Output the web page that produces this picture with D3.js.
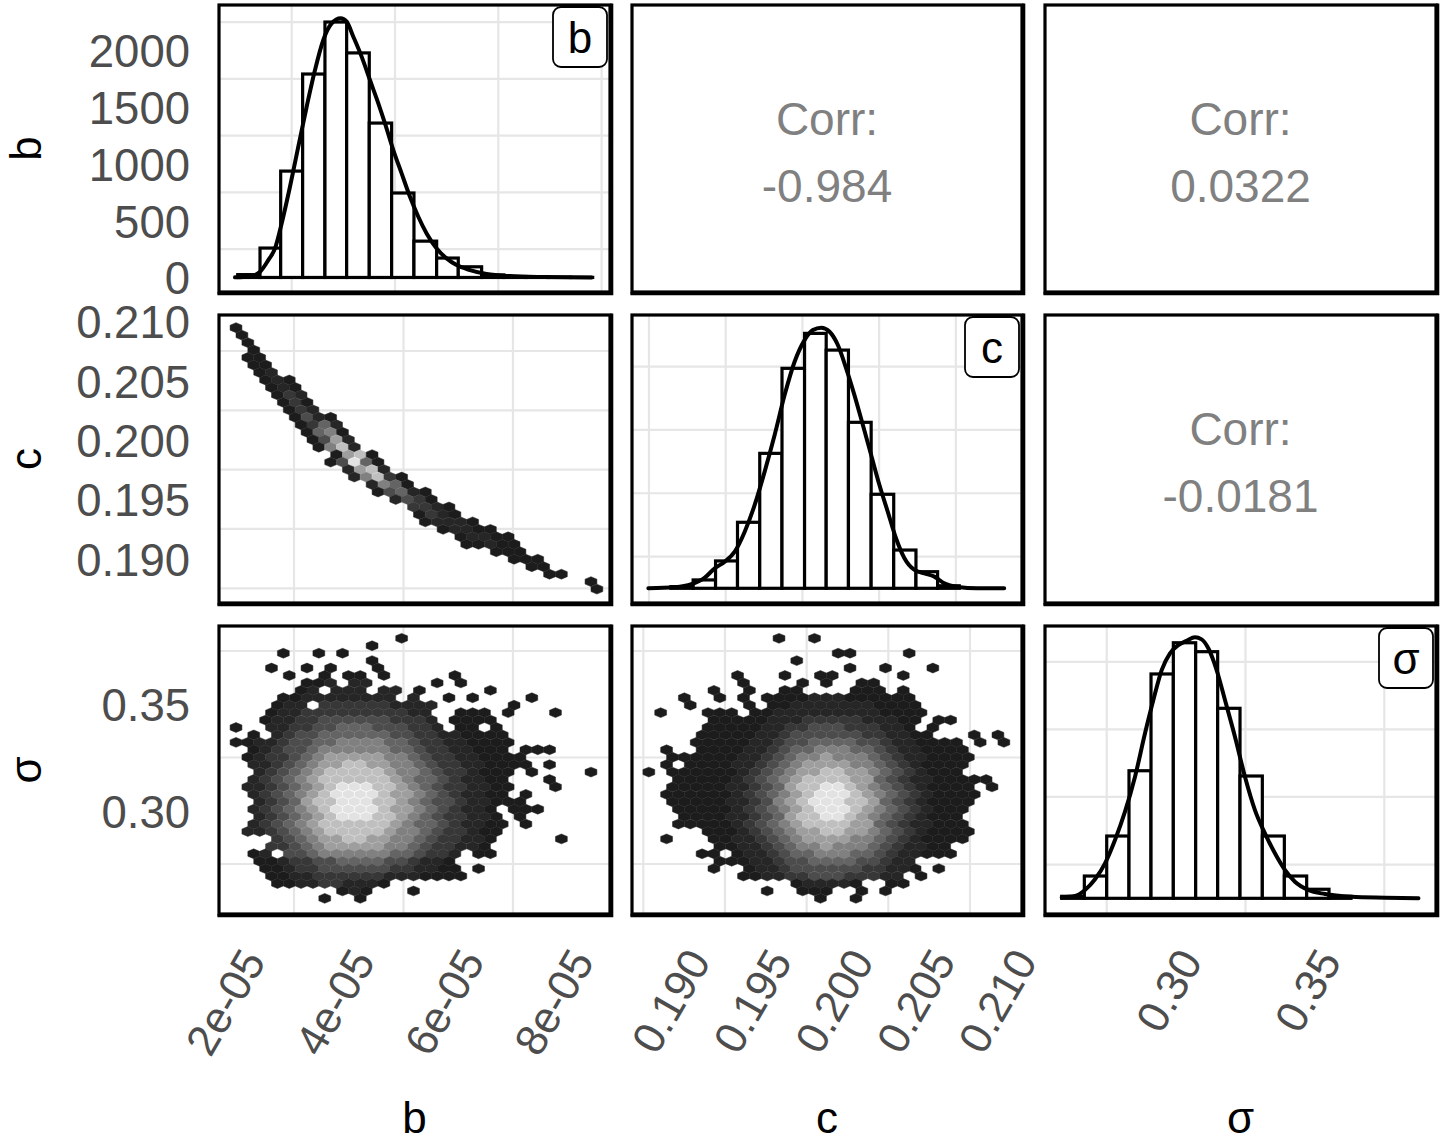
<!DOCTYPE html>
<html>
<head>
<meta charset="utf-8">
<script src="https://cdn.jsdelivr.net/npm/d3@7"></script>
<style>
  body { margin: 0; background: #fff; }
  svg { display: block; font-family: "Liberation Sans", Arial, sans-serif; }
</style>
</head>
<body>
<svg id="svg"></svg>
<script>
const svgWidth = 1443;
const svgHeight = 1141;

// ---- variables and axis breaks ----
const varNames = ["b", "c", "σ"];

const bBreaks = [2e-5, 4e-5, 6e-5, 8e-5];
const bLabels = ["2e-05", "4e-05", "6e-05", "8e-05"];
const cBreaks = [0.19, 0.195, 0.2, 0.205, 0.21];
const cLabels = ["0.190", "0.195", "0.200", "0.205", "0.210"];
const sBreaks = [0.3, 0.35];
const sLabels = ["0.30", "0.35"];
const countBreaks = [0, 500, 1000, 1500, 2000];
const countLabels = ["0", "500", "1000", "1500", "2000"];

// ---- histograms on the diagonal (bin edges, counts) ----
const bBinEdges = [1.955e-5, 2.387e-5, 2.787e-5, 3.212e-5, 3.644e-5, 4.064e-5, 4.502e-5, 4.935e-5,
  5.367e-5, 5.806e-5, 6.225e-5, 6.677e-5, 7.107e-5, 7.537e-5, 7.967e-5, 8.397e-5, 8.827e-5];
const bCounts = [25, 259, 937, 1792, 2250, 1978, 1360, 744, 320, 171, 94, 22, 8, 4, 2, 1];

const cBinEdges = [0.18893, 0.19038, 0.19184, 0.19327, 0.19472, 0.19617, 0.19764, 0.19905,
  0.2005, 0.20198, 0.20345, 0.2049, 0.20631, 0.20772];
const cCounts = [13, 66, 216, 521, 1065, 1736, 2012, 1880, 1310, 742, 302, 131, 20];

const sBinEdges = [0.25878, 0.26694, 0.275, 0.28303, 0.29096, 0.299, 0.30705, 0.31497,
  0.32302, 0.33106, 0.33899, 0.34703, 0.35508, 0.363];
const sCounts = [15, 165, 461, 944, 1660, 1891, 1825, 1406, 905, 461, 165, 67, 15];

// ---- density curves (scaled to counts) ----
const bDensX = [1.903, 2.193, 2.387, 2.548, 2.677, 2.806, 2.967, 3.128, 3.29, 3.451, 3.612, 3.774,
  3.948, 4.064, 4.193, 4.354, 4.515, 4.677, 4.806, 4.967, 5.128, 5.29, 5.451, 5.612, 5.806, 5.999,
  6.193, 6.451, 6.773, 7.225, 7.87, 8.805].map(v => v * 1e-5);
const bDensY = [1, 9, 50, 153, 256, 476, 799, 1152, 1504, 1827, 2092, 2238, 2283, 2253, 2121, 1945,
  1739, 1534, 1357, 1122, 917, 711, 535, 388, 256, 168, 109, 65, 30, 12, 4, 0];

const cDensX = [0.18746, 0.18919, 0.19027, 0.19114, 0.19179, 0.19244, 0.19309, 0.19374, 0.19439,
  0.19504, 0.19569, 0.19634, 0.19699, 0.19764, 0.19818, 0.19873, 0.19927, 0.19981, 0.20035, 0.20089,
  0.20144, 0.20198, 0.20252, 0.20306, 0.2036, 0.20415, 0.2048, 0.20545, 0.2061, 0.20675, 0.20761,
  0.20891, 0.21065];
const cDensY = [0, 8, 32, 84, 158, 210, 289, 447, 658, 921, 1210, 1525, 1788, 1959, 2038, 2057, 2025,
  1920, 1736, 1525, 1289, 1052, 815, 605, 395, 237, 145, 118, 92, 39, 11, 0, 0];

const sDensX = [0.25878, 0.26358, 0.26718, 0.27079, 0.27439, 0.27799, 0.28159, 0.2852, 0.2888,
  0.2918, 0.2948, 0.2978, 0.3008, 0.3038, 0.3068, 0.3092, 0.3116, 0.3146, 0.3176, 0.3212, 0.3248,
  0.3284, 0.332, 0.3356, 0.3392, 0.3428, 0.3476, 0.3536, 0.3632, 0.3753, 0.3873];
const sDensY = [7, 17, 62, 141, 259, 432, 641, 900, 1221, 1467, 1689, 1813, 1874, 1906, 1931, 1916,
  1850, 1689, 1467, 1196, 900, 653, 481, 333, 210, 123, 62, 32, 12, 5, 0];

// ---- correlations (upper triangle) ----
const corrCells = [[0, 1], [0, 2], [1, 2]];
const corrLabels = ["-0.984", "0.0322", "-0.0181"];

// ---- hexbin counts, one string per hex row (top to bottom), '.' = empty, 1..9 = shade level ----
const bHexBins = { start: 1.7245e-5, step: 0.21613e-5 };
const cHexBinsX = { start: 0.187114, step: 0.0007245 };
const sHexBinsY = { start: 0.380948, step: -0.003488 };
const cHexBinsY = { start: 0.209467, step: -0.0006296 };

const hexBC = [
  ".1...............................",
  ".1...............................",
  "..1..............................",
  "..1..............................",
  "..11.............................",
  "..11.............................",
  "...12............................",
  "...121...........................",
  "....121..........................",
  "....132..........................",
  ".....131.........................",
  ".....132.........................",
  "......1421.......................",
  "......1352.......................",
  ".......1561......................",
  ".......1472......................",
  "........1682.....................",
  ".........1781....................",
  ".........14951...................",
  "..........2782...................",
  "...........26831.................",
  "............2651.................",
  ".............14521...............",
  "..............2431...............",
  "................3321.............",
  "................1321.............",
  ".................12221...........",
  "..................12211..........",
  "....................12211........",
  "....................11211........",
  ".......................111.......",
  "........................111......",
  "..........................11.....",
  "...........................11....",
  "...............................1.",
  "...............................1."
];

const hexBS = [
  "...............1.................",
  "............1....................",
  ".....1..1.1......................",
  "............1....................",
  "....1..1.1...1...................",
  ".....1..1.11.1.....1.............",
  ".......112.22.....1.1............",
  "......12.222.22.1.....1..........",
  ".....1122222222.2..1.1....1......",
  "....122.3333332222......1........",
  "....12233333333322..111.1...1....",
  "...122334444443332.1111..........",
  ".1..223344555444332.11.1.........",
  "..1.23445555554433221111.........",
  ".112234455666655433221111........",
  "..1234456666665543322111.111.....",
  "..123345677777665433221111.......",
  "..223456778877665433221111.1.....",
  "...2345678888876654332111.1....1.",
  "..2345678888887655432211...1.....",
  "..22345678999887654332211...1....",
  "..2345678999987765432211.1.......",
  "...23457889998876544322111.......",
  "..234567899998776543221.111......",
  "...234567899988765433221.1.......",
  "..2345678888887655432211.1.......",
  "..2234567888887665433211.........",
  "....3456778877665433221.....1....",
  "....3345677777665433221..........",
  "..12.445666666554332.11..........",
  "...11233445555443221.............",
  "...11233444444332211.1...........",
  "....11223333332221111............",
  "....1122332221...................",
  "..........121...1................",
  "........1..1....................."
];

const hexCS = [
  "............1..1.................",
  ".................................",
  ".................11....1.........",
  ".............1...................",
  "..................1..1...1.......",
  "........1...1..11.....1..........",
  ".........1....1.1..11............",
  "......1..1..11....111.1..........",
  "....1..1.1.1111222111111.........",
  "....1....1.1122222221111.........",
  "..1...111.112222222221111........",
  "......111112223333322211.11......",
  "......111112233444333221.1.......",
  ".....11111223444444332211...1.1..",
  ".....11111223445555443221111.1.1.",
  "..1..11112234556665543221111.....",
  "...11111122345667666543221111....",
  "..1.111122345677776654321111.....",
  ".1.1111112345677887765432111.....",
  "...111112345678888775432211111...",
  "...11111223457889987654321111.1..",
  "..111111234567899987654321111....",
  "...11111223467899988754321111....",
  "...1111123456789998765432111.....",
  "....111122345788998765432111.....",
  "...1111123456788887754322111.....",
  "......11123456778877654321111....",
  "..1...1122345677776654321111.....",
  ".......11223456676665432211......",
  ".....11.1223455666554322111......",
  ".......11122344555544322.........",
  "......1..122344444433221.1.......",
  ".........11223344433322.1........",
  ".............122221..11..........",
  "...........1..111..1.1...........",
  "...............1..1.............."
];

// ---- layout ----
const colLeft = [219, 632, 1045];
const colRight = [610, 1022, 1436];
const rowTop = [5, 315, 626];
const rowBottom = [292, 603, 914];

// scale domains per panel
const bDiagDomain = [1.593e-5, 9.162e-5];
const bHexDomain = [1.63e-5, 8.772e-5];
const cDiagDomain = [0.186395, 0.21181];
const cHexDomain = [0.186808, 0.210684];
const sDiagDomain = [0.25277, 0.39362];
const cYDomain = [0.18626, 0.210535];
const sYDomain = [0.25153, 0.38674];
const bCountDomain = [-128, 2400];
const cCountDomain = [-116, 2157];
const sCountDomain = [-116, 2015];

const fontSize = 44;
const tickFontSize = 45.5;
const corrFontSize = 46;
const gridColor = "#e6e6e6";
const hexRamp = d3.interpolateRgb("#1c1c1c", "#e2e2e2");
// count level -> grey (low counts dark, high counts light)
const hexFill = level => hexRamp(Math.pow((level - 1) / 8, 1.45));

let svg = d3.select("#svg").attr("width", svgWidth).attr("height", svgHeight);

function xScaleFor(col, domain) {
  return d3.scaleLinear().domain(domain).range([colLeft[col], colRight[col]]);
}
function yScaleFor(row, domain) {
  return d3.scaleLinear().domain(domain).range([rowBottom[row], rowTop[row]]);
}

// minor gridline positions (midpoints of the major breaks, extended one step)
function minorBreaks(breaks, domain) {
  const step = breaks[1] - breaks[0];
  const ext = [breaks[0] - step, ...breaks, breaks[breaks.length - 1] + step];
  const out = [];
  for (let i = 0; i < ext.length - 1; i++) {
    const m = (ext[i] + ext[i + 1]) / 2;
    if (m > domain[0] && m < domain[1]) out.push(m);
  }
  return out;
}

function drawGrid(g, x, y, xBreaks, yBreaks) {
  const [y0, y1] = y.range();
  const [x0, x1] = x.range();
  g.selectAll(".vgrid")
    .data(minorBreaks(xBreaks, x.domain()))
    .join("line")
    .attr("x1", d => x(d)).attr("x2", d => x(d))
    .attr("y1", y0).attr("y2", y1)
    .attr("stroke", gridColor).attr("stroke-width", 2.2);
  g.selectAll(".hgrid")
    .data(minorBreaks(yBreaks, y.domain()))
    .join("line")
    .attr("x1", x0).attr("x2", x1)
    .attr("y1", d => y(d)).attr("y2", d => y(d))
    .attr("stroke", gridColor).attr("stroke-width", 2.2);
}

function drawFrame(row, col) {
  const l = colLeft[col], r = colRight[col], t = rowTop[row], b = rowBottom[row];
  svg.append("rect")
    .attr("x", l).attr("y", t).attr("width", r - l).attr("height", b - t)
    .attr("fill", "none").attr("stroke", "#000").attr("stroke-width", 3.2);
  svg.append("path")
    .attr("d", `M${l - 1.6},${b + 1.8}H${r + 1.8}V${t - 1.6}`)
    .attr("fill", "none").attr("stroke", "#000").attr("stroke-width", 3);
}

// ---- diagonal: histogram + density ----
const diagPanels = [
  { idx: 0, edges: bBinEdges, counts: bCounts, densX: bDensX, densY: bDensY,
    xDomain: bDiagDomain, yDomain: bCountDomain, xBreaks: bBreaks },
  { idx: 1, edges: cBinEdges, counts: cCounts, densX: cDensX, densY: cDensY,
    xDomain: cDiagDomain, yDomain: cCountDomain, xBreaks: cBreaks },
  { idx: 2, edges: sBinEdges, counts: sCounts, densX: sDensX, densY: sDensY,
    xDomain: sDiagDomain, yDomain: sCountDomain, xBreaks: sBreaks }
];

function makeDiag(p) {
  const x = xScaleFor(p.idx, p.xDomain);
  const y = yScaleFor(p.idx, p.yDomain);
  const g = svg.append("g");
  drawGrid(g, x, y, p.xBreaks, countBreaks);

  const bins = p.counts.map((c, i) => ({ x0: p.edges[i], x1: p.edges[i + 1], n: c }));
  g.selectAll(".bar")
    .data(bins)
    .join("rect")
    .attr("x", d => x(d.x0))
    .attr("width", d => x(d.x1) - x(d.x0))
    .attr("y", d => y(d.n))
    .attr("height", d => y(0) - y(d.n))
    .attr("fill", "#fff")
    .attr("stroke", "#000")
    .attr("stroke-width", 3.2);

  const line = d3.line()
    .x(d => x(d[0]))
    .y(d => y(d[1]))
    .curve(d3.curveMonotoneX);
  g.append("path")
    .datum(d3.zip(p.densX, p.densY))
    .attr("d", line)
    .attr("fill", "none")
    .attr("stroke", "#000")
    .attr("stroke-width", 4)
    .attr("stroke-linecap", "round")
    .attr("stroke-linejoin", "round");

  drawFrame(p.idx, p.idx);

  // strip label box in the top-right corner
  const bw = 54, bh = 60;
  const bx = colRight[p.idx] - 3 - bw, by = rowTop[p.idx] + 2;
  svg.append("rect")
    .attr("x", bx).attr("y", by).attr("width", bw).attr("height", bh)
    .attr("rx", 8).attr("ry", 8)
    .attr("fill", "#fff").attr("stroke", "#000").attr("stroke-width", 1.8);
  svg.append("text")
    .attr("x", bx + bw / 2).attr("y", by + 46)
    .attr("text-anchor", "middle")
    .style("font-size", `${fontSize}px`)
    .attr("fill", "#000")
    .text(varNames[p.idx]);
}

// ---- lower triangle: hexbins ----
const hexPanels = [
  { row: 1, col: 0, cells: hexBC, xDomain: bHexDomain, yDomain: cYDomain,
    xBins: bHexBins, yBins: cHexBinsY, xBreaks: bBreaks, yBreaks: cBreaks },
  { row: 2, col: 0, cells: hexBS, xDomain: bHexDomain, yDomain: sYDomain,
    xBins: bHexBins, yBins: sHexBinsY, xBreaks: bBreaks, yBreaks: sBreaks },
  { row: 2, col: 1, cells: hexCS, xDomain: cHexDomain, yDomain: sYDomain,
    xBins: cHexBinsX, yBins: sHexBinsY, xBreaks: cBreaks, yBreaks: sBreaks }
];

function makeHex(p) {
  const x = xScaleFor(p.col, p.xDomain);
  const y = yScaleFor(p.row, p.yDomain);
  const g = svg.append("g");
  drawGrid(g, x, y, p.xBreaks, p.yBreaks);

  const cells = [];
  p.cells.forEach((rowStr, k) => {
    const off = k % 2 === 1 ? 0.5 : 0;
    for (let i = 0; i < rowStr.length; i++) {
      const ch = rowStr[i];
      if (ch === ".") continue;
      cells.push({
        bx: p.xBins.start + (i + off) * p.xBins.step,
        by: p.yBins.start + k * p.yBins.step,
        level: +ch
      });
    }
  });

  const hw = Math.abs(x(p.xBins.start + p.xBins.step) - x(p.xBins.start)) / 2;
  const ry = Math.abs(y(p.yBins.start + p.yBins.step) - y(p.yBins.start));
  const dy = ry / Math.sqrt(3) / 2 * 1.15;
  const hexPts = [[hw, -dy], [hw, dy], [0, 2 * dy], [-hw, dy], [-hw, -dy], [0, -2 * dy]];
  const hexPath = "M" + hexPts.map(q => q.join(",")).join("L") + "Z";

  g.selectAll(".hex")
    .data(cells)
    .join("path")
    .attr("transform", d => `translate(${x(d.bx)},${y(d.by)})`)
    .attr("d", hexPath)
    .attr("fill", d => hexFill(d.level))
    .attr("stroke", d => d3.color(hexFill(d.level)).brighter(0.35))
    .attr("stroke-width", 0.5);

  drawFrame(p.row, p.col);
}

// ---- upper triangle: correlation text ----
function makeCorr() {
  corrCells.forEach(([row, col], i) => {
    drawFrame(row, col);
    const cx = (colLeft[col] + colRight[col]) / 2;
    const cy = (rowTop[row] + rowBottom[row]) / 2;
    svg.append("text")
      .attr("x", cx).attr("y", cy - 14)
      .attr("text-anchor", "middle")
      .style("font-size", `${corrFontSize}px`)
      .attr("fill", "#808080")
      .text("Corr:");
    svg.append("text")
      .attr("x", cx).attr("y", cy + 53)
      .attr("text-anchor", "middle")
      .style("font-size", `${corrFontSize}px`)
      .attr("fill", "#808080")
      .text(corrLabels[i]);
  });
}

// ---- outer axes ----
function makeAxes() {
  const leftAxes = [
    { domain: bCountDomain, breaks: countBreaks, labels: countLabels },
    { domain: cYDomain, breaks: cBreaks, labels: cLabels },
    { domain: sYDomain, breaks: sBreaks, labels: sLabels }
  ];
  leftAxes.forEach((a, row) => {
    const y = yScaleFor(row, a.domain);
    svg.append("g")
      .attr("transform", "translate(190,0)")
      .call(d3.axisLeft(y).tickValues(a.breaks).tickFormat((d, i) => a.labels[i])
        .tickSize(0).tickPadding(0))
      .call(g => g.select(".domain").remove())
      .attr("font-family", null)
      .attr("font-size", null)
      .selectAll("text")
      .attr("dy", "0.36em")
      .style("font-size", `${tickFontSize}px`)
      .attr("fill", "#4d4d4d");
  });

  const bottomAxes = [
    { domain: bHexDomain, breaks: bBreaks, labels: bLabels },
    { domain: cHexDomain, breaks: cBreaks, labels: cLabels },
    { domain: sDiagDomain, breaks: sBreaks, labels: sLabels }
  ];
  bottomAxes.forEach((a, col) => {
    const x = xScaleFor(col, a.domain);
    svg.append("g")
      .attr("transform", "translate(0,946)")
      .call(d3.axisBottom(x).tickValues(a.breaks).tickFormat((d, i) => a.labels[i])
        .tickSize(0).tickPadding(0))
      .call(g => g.select(".domain").remove())
      .attr("font-family", null)
      .attr("font-size", null)
      .selectAll("text")
      .attr("x", 0).attr("y", 0).attr("dy", null)
      .attr("text-anchor", "end")
      .attr("transform", "translate(27,15) rotate(-60)")
      .style("font-size", `${fontSize}px`)
      .attr("fill", "#4d4d4d");
  });

  // axis titles
  varNames.forEach((name, i) => {
    svg.append("text")
      .attr("x", (colLeft[i] + colRight[i]) / 2)
      .attr("y", 1133)
      .attr("text-anchor", "middle")
      .style("font-size", `${fontSize}px`)
      .attr("fill", "#000")
      .text(name);
    const cy = (rowTop[i] + rowBottom[i]) / 2;
    svg.append("text")
      .attr("transform", `translate(41,${cy}) rotate(-90)`)
      .attr("text-anchor", "middle")
      .style("font-size", `${fontSize}px`)
      .attr("fill", "#000")
      .text(name);
  });
}

function initialize() {
  svg.selectAll("*").remove();
  svg.append("rect").attr("width", svgWidth).attr("height", svgHeight).attr("fill", "#fff");
  diagPanels.forEach(makeDiag);
  hexPanels.forEach(makeHex);
  makeCorr();
  makeAxes();
}

initialize();
</script>
</body>
</html>
